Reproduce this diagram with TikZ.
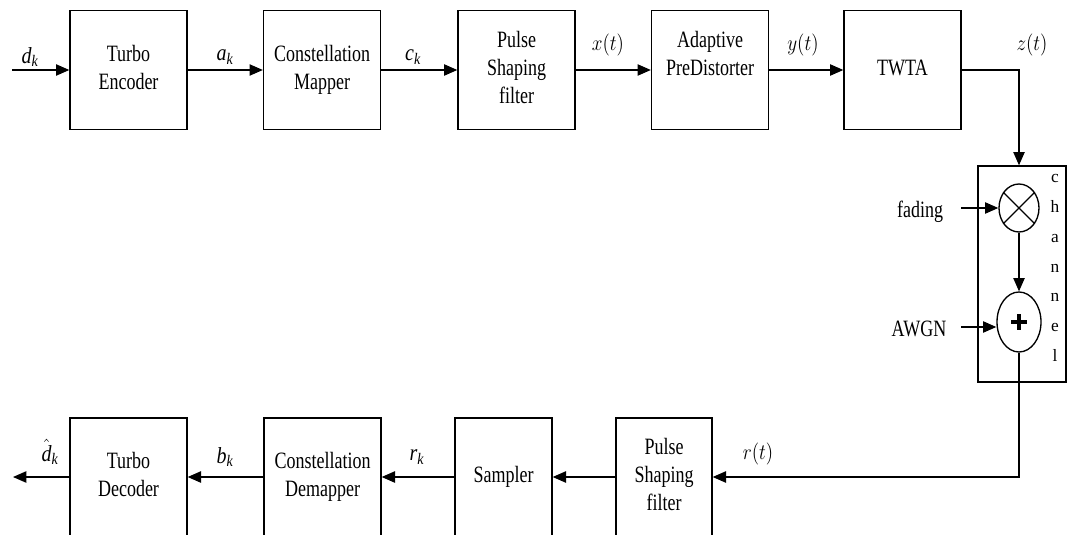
\documentclass[tikz,border=0pt]{standalone}
\usepackage{fontspec}
\setmainfont{Liberation Serif}
\usepackage{amsmath}
\usetikzlibrary{arrows.meta,shapes.geometric,calc}
\newcommand{\bxt}[1]{\scalebox{1}[1.3]{\begin{tabular}{@{}c@{}}#1\end{tabular}}}
\newcommand{\lbt}[1]{\scalebox{1}[1.15]{#1}}
\begin{document}
\begin{tikzpicture}[x=0.75pt,y=-0.75pt,
  blk/.style={draw,line width=1pt,minimum width=87.75pt,minimum height=89.25pt,inner sep=0pt,font=\fontsize{13.5}{16}\selectfont},
  bblk/.style={blk,minimum height=88.5pt},
  arr/.style={line width=1pt,-{Triangle[length=10pt,width=8.5pt]}},
  ln/.style={line width=1pt},
  lbl/.style={inner sep=0pt,font=\fontsize{15}{18}\selectfont},
  side/.style={inner sep=0pt,font=\fontsize{13.5}{16}\selectfont}]
\useasboundingbox (0,0) rectangle (1070,535);
\clip (0,0) rectangle (1070,534);
% top row
\node[blk] (te) at (128.5,70) {\bxt{Turbo\\Encoder}};
\node[blk] (cm) at (322,70) {\bxt{Constellation\\Mapper}};
\node[blk] (ps) at (516.5,70) {\bxt{Pulse\\Shaping\\filter}};
\node[blk] (ap) at (710,70) {\bxt{Adaptive\\PreDistorter\\\mbox{}}};
\node[blk] (tw) at (902.5,70) {\bxt{TWTA}};
% channel
\node[draw,line width=1pt,minimum width=66pt,minimum height=162pt,inner sep=0pt] (ch) at (1022,274) {};
\node[draw,line width=1pt,ellipse,minimum width=30pt,minimum height=36pt,inner sep=0pt] (mul) at (1019,208) {};
\node[draw,line width=1pt,ellipse,minimum width=33pt,minimum height=45pt,inner sep=0pt] (add) at (1019,322) {};
\draw[ln] (mul.45) -- (mul.225) (mul.135) -- (mul.315);
\draw[line width=2.8pt] ($(add)+(-8,0)$) -- ($(add)+(8,0)$) ($(add)+(0,-8)$) -- ($(add)+(0,8)$);
\node[align=center,inner sep=0pt,font=\fontsize{13}{22.3}\selectfont] (chl) at (1055,268) {c\\h\\a\\n\\n\\e\\l};
\node[side] (fad) at (920,212) {\bxt{fading}};
\node[side] (awgn) at (919,331) {\bxt{AWGN}};
\coordinate (fin) at (961,208);
\coordinate (ain) at (961,327);
% bottom row
\node[bblk] (td) at (128.5,477) {\bxt{Turbo\\Decoder}};
\node[bblk] (cd) at (322.5,477) {\bxt{Constellation\\Demapper}};
\node[bblk,minimum width=72.75pt] (sa) at (503.5,477) {\bxt{Sampler}};
\node[bblk,minimum width=72pt] (pb) at (664,477) {\bxt{Pulse\\Shaping\\filter}};
% end points
\coordinate (in) at (12,70);
\coordinate (out) at (13,477);
% connectors
\draw[arr] (in) -- (te.west);
\draw[arr] (te.east) -- (cm.west);
\draw[arr] (cm.east) -- (ps.west);
\draw[arr] (ps.east) -- (ap.west);
\draw[arr] (ap.east) -- (tw.west);
\draw[arr] (tw.east) -| (ch.north -| mul.north);
\draw[arr] (fin) -- (mul.west);
\draw[arr] (ain) -- (ain -| add.west);
\draw[arr] (mul.south) -- (add.north);
\draw[arr] (add.south) |- (pb.east);
\draw[arr] (pb.west) -- (sa.east);
\draw[arr] (sa.west) -- (cd.east);
\draw[arr] (cd.west) -- (td.east);
\draw[arr] (td.west) -- (out);
% labels
\node[lbl] (ldk) at (30,57) {\lbt{$\textit{d}_{\textit{k}}$}};
\node[lbl] (lak) at (225,57) {\lbt{$\textit{a}_{\textit{k}}$}};
\node[lbl] (lck) at (413,57) {\lbt{$\textit{c}_{\textit{k}}$}};
\node[lbl] (lxt) at (608,45) {\lbt{$x(t)$}};
\node[lbl] (lyt) at (803,45) {\lbt{$y(t)$}};
\node[lbl] (lzt) at (1032,45) {\lbt{$z(t)$}};
\node[lbl] (lrt) at (758,454) {\lbt{$r(t)$}};
\node[lbl] (lrk) at (417,457) {\lbt{$\textit{r}_{\textit{k}}$}};
\node[lbl] (lbk) at (225,457) {\lbt{$\textit{b}_{\textit{k}}$}};
\node[lbl] (ldh) at (50,452) {\lbt{$\hat{\textit{d}}_{\textit{k}}$}};
\end{tikzpicture}
\end{document}
